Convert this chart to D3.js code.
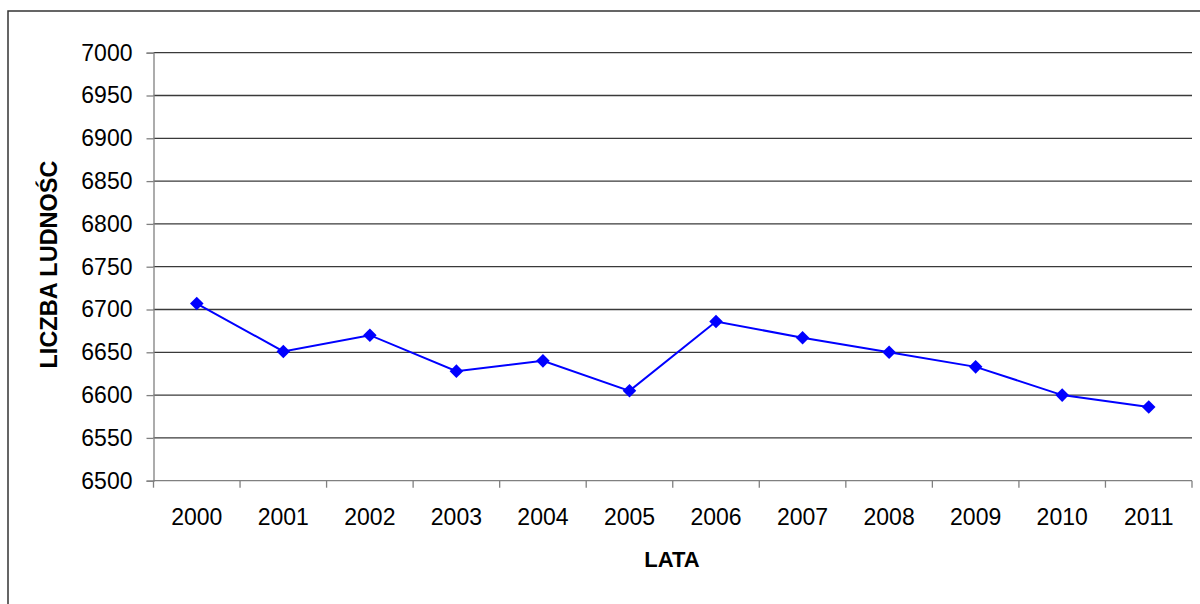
<!DOCTYPE html>
<html><head><meta charset="utf-8">
<script src="https://cdn.jsdelivr.net/npm/d3@7"></script>
<style>body{margin:0;background:#fff}svg{display:block}</style>
</head><body>
<svg id="c" width="1200" height="604"></svg>
<script>
const years = ["2000","2001","2002","2003","2004","2005","2006","2007","2008","2009","2010","2011"];
const population = [6707, 6651, 6670, 6628, 6640, 6605, 6686, 6667, 6650, 6633, 6600, 6586];
const yTicks = [6500, 6550, 6600, 6650, 6700, 6750, 6800, 6850, 6900, 6950, 7000];
const yTitle = "LICZBA LUDNOŚC";
const xTitle = "LATA";

const svg = d3.select("#c");
const L = 153.5, R = 1192, T = 52.7, B = 480.7;
const font = "'Liberation Sans', Arial, sans-serif";

// outer border
svg.append("rect").attr("x", 8).attr("y", 11).attr("width", 1300).attr("height", 700)
  .attr("fill", "none").attr("stroke", "#333").attr("stroke-width", 1.5);

const x = d3.scaleBand().domain(years).range([L, R]);
const y = d3.scaleLinear().domain([6500, 7000]).range([B, T]);

// gridlines
svg.append("g").selectAll("line").data(yTicks.filter(v => v > 6500)).join("line")
  .attr("x1", L).attr("x2", R).attr("y1", d => y(d)).attr("y2", d => y(d))
  .attr("stroke", "#3a3a3a").attr("stroke-width", 1.3);

// y axis
const yAxis = svg.append("g").attr("transform", `translate(${L},0)`)
  .call(d3.axisLeft(y).tickValues(yTicks).tickSize(7).tickPadding(14).tickFormat(d3.format("d")));
yAxis.select(".domain").attr("stroke", "#808080").attr("stroke-width", 1.3);
yAxis.selectAll(".tick line").attr("stroke", "#808080").attr("stroke-width", 1.3);
yAxis.selectAll("text").attr("font-family", font).attr("font-size", 23).attr("fill", "#000");

// x axis
const xAxis = svg.append("g").attr("transform", `translate(0,${B})`)
  .call(d3.axisBottom(x).tickSize(0).tickPadding(0));
xAxis.select(".domain").remove();
xAxis.append("line").attr("x1", L).attr("x2", R).attr("stroke", "#808080").attr("stroke-width", 1.3);
xAxis.selectAll(".tickmark").data([...years.map(d => x(d)), R]).join("line")
  .attr("x1", d => d).attr("x2", d => d).attr("y1", 0).attr("y2", 7)
  .attr("stroke", "#808080").attr("stroke-width", 1.3);
xAxis.selectAll(".tick text").attr("font-family", font).attr("font-size", 23).attr("fill", "#000")
  .attr("dy", null).attr("y", 44);

// line
const cx = d => x(d) + x.bandwidth() / 2;
svg.append("path").datum(population)
  .attr("d", d3.line().x((d, i) => cx(years[i])).y(d => y(d)))
  .attr("fill", "none").attr("stroke", "#0000FF").attr("stroke-width", 2);

// markers
svg.append("g").selectAll("path").data(population).join("path")
  .attr("d", d3.symbol(d3.symbolSquare, 92))
  .attr("transform", (d, i) => `translate(${cx(years[i])},${y(d)}) rotate(45)`)
  .attr("fill", "#0000FF");

// titles
svg.append("text").attr("transform", `translate(57,264.5) rotate(-90)`)
  .attr("text-anchor", "middle").attr("font-family", font).attr("font-weight", "bold")
  .attr("font-size", 23.5).text(yTitle);
svg.append("text").attr("x", 672).attr("y", 567)
  .attr("text-anchor", "middle").attr("font-family", font).attr("font-weight", "bold")
  .attr("font-size", 22).text(xTitle);
</script>
</body></html>
